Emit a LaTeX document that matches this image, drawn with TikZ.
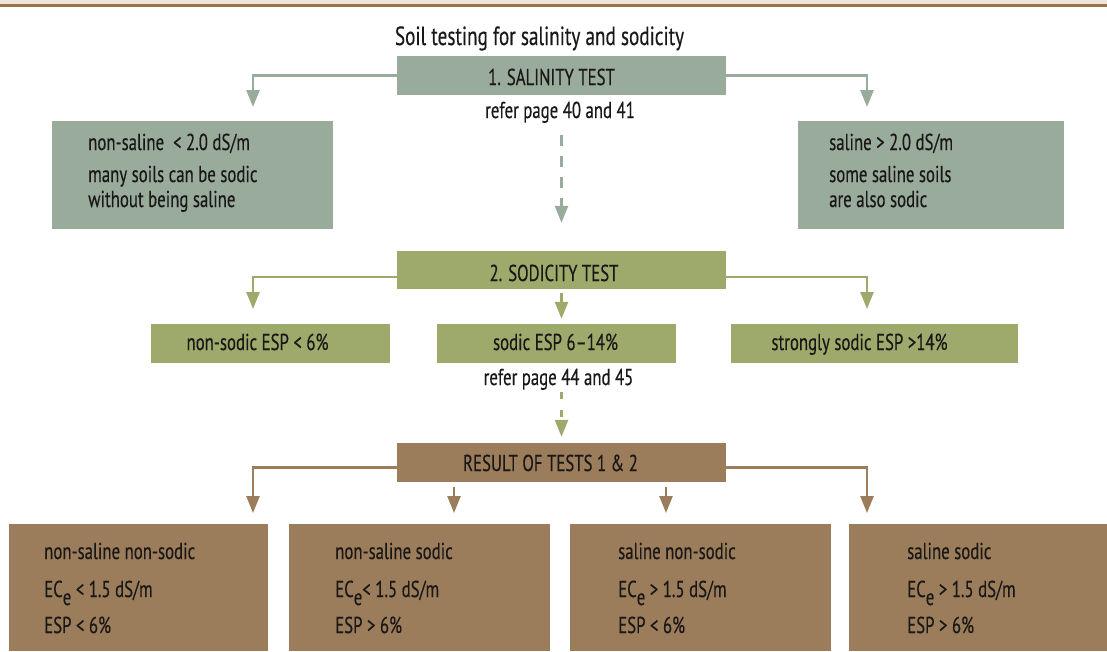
\documentclass[tikz,border=0pt]{standalone}
\usepackage{fontspec}
\setmainfont[FakeStretch=0.73,FakeBold=0.35]{PT Sans}
\usetikzlibrary{arrows.meta}
\definecolor{salc}{HTML}{99AB9B}
\definecolor{sodc}{HTML}{9EAA6B}
\definecolor{resc}{HTML}{9C7D5B}
\definecolor{bandc}{HTML}{EEE5DB}
\definecolor{rulec}{HTML}{9B7447}
\definecolor{inkc}{HTML}{1A1817}
\newcommand{\lowe}{\raisebox{-8pt}{e}}
\begin{document}
\begin{tikzpicture}[x=1pt,y=-1pt,
  box/.style={fill=#1,draw=none,inner sep=0pt},
  lbl/.style={inner sep=0pt,text=inkc,font=\fontsize{23}{27}\selectfont},
  ttl/.style={inner sep=0pt,text=inkc,font=\fontsize{26.3}{30}\selectfont},
  link/.style={draw=#1,line width=2.6pt,
    -{Triangle[width=13pt,length=17pt,fill=#1]}},
  dlink/.style={link=#1,dash pattern=on 11pt off 10pt},
]
\useasboundingbox (0,0) rectangle (1107,651);
% page header band
\fill[bandc] (0,0) rectangle (1107,4);
\fill[rulec] (0,4) rectangle (1107,7);

% title
\node[ttl,anchor=base] (title) at (539.5,45) {Soil testing for salinity and sodicity};

% salinity level
\node[box=salc,minimum width=329pt,minimum height=39pt] (sal) at (561.5,75.5) {};
\node[lbl,anchor=base] (saltx) at (551.5,85) {1. SALINITY TEST};
\node[lbl,anchor=base] (ref1) at (560,118) {refer page 40 and 41};
\node[box=salc,minimum width=281pt,minimum height=108pt] (nonsal) at (192.5,175) {};
\node[box=salc,minimum width=266pt,minimum height=108pt] (salne) at (931,175) {};
\node[lbl,anchor=base west] (ns1) at (88,150) {non-saline\ \ < 2.0 dS/m};
\node[lbl,anchor=base west] (ns2) at (88,182) {many soils can be sodic};
\node[lbl,anchor=base west] (ns3) at (88,207) {without being saline};
\node[lbl,anchor=base west] (sa1) at (829,150) {saline > 2.0 dS/m};
\node[lbl,anchor=base west] (sa2) at (829,182) {some saline soils};
\node[lbl,anchor=base west] (sa3) at (829,207) {are also sodic};

% sodicity level
\node[box=sodc,minimum width=329pt,minimum height=38pt] (sod) at (561.5,270) {};
\node[lbl,anchor=base] (sodtx) at (554,281) {2. SODICITY TEST};
\node[box=sodc,minimum width=239pt,minimum height=39pt] (nsod) at (270.5,343.5) {};
\node[box=sodc,minimum width=239pt,minimum height=39pt] (sodic) at (556.5,343.5) {};
\node[box=sodc,minimum width=287pt,minimum height=39pt] (ssod) at (874.5,343.5) {};
\node[lbl,anchor=base] (nsodtx) at (257.5,350) {non-sodic ESP < 6\%};
\node[lbl,anchor=base] (sodictx) at (555.5,350) {sodic ESP 6–14\%};
\node[lbl,anchor=base] (ssodtx) at (859.5,350) {strongly sodic ESP >14\%};
\node[lbl,anchor=base] (ref2) at (558.5,385) {refer page 44 and 45};

% results level
\node[box=resc,minimum width=329pt,minimum height=39pt] (res) at (561.5,462.5) {};
\node[lbl,anchor=base] (restx) at (550.5,471) {RESULT OF TESTS 1 \& 2};
\node[box=resc,minimum width=259pt,minimum height=127pt] (r1box) at (138.5,587.5) {};
\node[box=resc,minimum width=261pt,minimum height=127pt] (r2box) at (419.5,587.5) {};
\node[box=resc,minimum width=261pt,minimum height=127pt] (r3box) at (700.5,587.5) {};
\node[box=resc,minimum width=258pt,minimum height=127pt] (r4box) at (978,587.5) {};
\node[lbl,anchor=base west] (q1a) at (44,559) {non-saline non-sodic};
\node[lbl,anchor=base west] (q1b) at (44,597) {EC\lowe{} < 1.5 dS/m};
\node[lbl,anchor=base west] (q1c) at (44,633) {ESP < 6\%};
\node[lbl,anchor=base west] (q2a) at (335,559) {non-saline sodic};
\node[lbl,anchor=base west] (q2b) at (335,597) {EC\lowe< 1.5 dS/m};
\node[lbl,anchor=base west] (q2c) at (335,633) {ESP > 6\%};
\node[lbl,anchor=base west] (q3a) at (618,559) {saline non-sodic};
\node[lbl,anchor=base west] (q3b) at (618,597) {EC\lowe{} > 1.5 dS/m};
\node[lbl,anchor=base west] (q3c) at (618,633) {ESP < 6\%};
\node[lbl,anchor=base west] (q4a) at (907,559) {saline sodic};
\node[lbl,anchor=base west] (q4b) at (907,597) {EC\lowe{} > 1.5 dS/m};
\node[lbl,anchor=base west] (q4c) at (907,633) {ESP > 6\%};

% arrow tips
\coordinate (a1) at (253,107);
\coordinate (a2) at (867,107);
\coordinate (s1) at (253,309);
\coordinate (s3) at (867,309);
\coordinate (t1) at (253,513);
\coordinate (t2) at (454,513);
\coordinate (t3) at (666,513);
\coordinate (t4) at (867,513);

% salinity connectors
\draw[link=salc] (sal.west) -| (a1);
\draw[link=salc] (sal.east) -| (a2);
\draw[dlink=salc,shorten <=12pt,shorten >=28pt] (ref1.south -| sod.north) -- (sod.north);

% sodicity connectors
\draw[link=sodc] ([yshift=-7pt]sod.west) -| (s1);
\draw[link=sodc] ([yshift=-7pt]sod.east) -| (s3);
\draw[link=sodc,shorten <=4pt,shorten >=5pt] (sod.south) -- (sod.south |- sodic.north);
\draw[dlink=sodc,dash pattern=on 7pt off 11pt,shorten <=2pt,shorten >=6pt] (ref2.south -| res.north) -- (res.north);

% result connectors
\draw[link=resc] ([yshift=-5pt]res.west) -| (t1);
\draw[link=resc] ([yshift=-5pt]res.east) -| (t4);
\draw[link=resc,shorten <=5pt] (res.south -| t2) -- (t2);
\draw[link=resc,shorten <=5pt] (res.south -| t3) -- (t3);
\end{tikzpicture}
\end{document}
